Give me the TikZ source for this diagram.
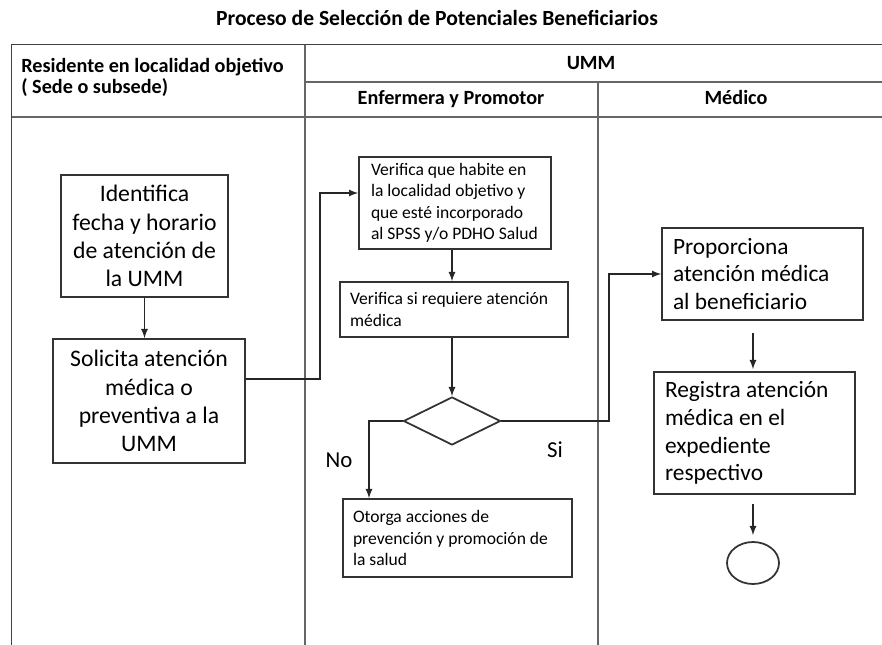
\documentclass[tikz,border=0pt]{standalone}
\usepackage{fontspec}
\setmainfont{Carlito}
\usetikzlibrary{shapes.geometric}
\begin{document}
\begin{tikzpicture}[x=0.02cm,y=-0.02cm,
    lane/.style={line width=0.9pt,draw=black!60},
    frame/.style={draw=black!75,double,double distance=0.5pt,line width=0.45pt},
    head/.style={font=\bfseries\fontsize{11.5}{13}\selectfont,inner sep=0pt,text height=1.6ex,text depth=0.4ex},
    bigbox/.style={draw=black!80,line width=1pt,align=center,font=\fontsize{13.5}{16}\selectfont,inner sep=0pt},
    textbox/.style={draw=black!80,line width=1pt,align=flush left,font=\fontsize{10}{12.2}\selectfont,inner ysep=0pt},
    medbox/.style={draw=black!80,line width=1pt,align=flush left,font=\fontsize{13.3}{15.8}\selectfont,inner ysep=0pt,inner xsep=0.22cm,text width=3.58cm,minimum width=4.02cm},
    flow/.style={line width=0.8pt,draw=black!85,-latex}]
  \useasboundingbox (0,0) rectangle (882,645);
  % table
  \draw[frame] (12,645) -- (12,45) -- (882,45);
  \draw[lane] (12,117) -- (882,117);
  \draw[lane] (305,45) -- (305,645);
  \draw[lane] (305,82) -- (882,82);
  \draw[lane] (598,82) -- (598,645);
  \node[head,font=\bfseries\fontsize{12.3}{14}\selectfont] (title) at (437,20) {Proceso de Selección de Potenciales Beneficiarios};
  \node[head,anchor=west] (resid) at (21,67) {Residente en localidad objetivo};
  \node[head,anchor=west] (sede) at (21,88) {( Sede o subsede)};
  \node[head] (umm) at (591,64) {UMM};
  \node[head] (enfer) at (451,99) {Enfermera y Promotor};
  \node[head] (medico) at (736,99) {Médico};
  % boxes
  \node[bigbox,minimum width=3.34cm,minimum height=2.44cm] (ident) at (144.5,236) {Identifica\\fecha y horario\\de atención de\\la UMM};
  \node[bigbox,minimum width=3.84cm,minimum height=2.48cm] (solic) at (149,401) {Solicita atención\\médica o\\preventiva a la\\UMM};
  \node[textbox,inner xsep=0.24cm,text width=3.36cm,minimum height=1.84cm] (verif) at (455,203) {Verifica que habite en\\la localidad objetivo y\\que esté incorporado\\al SPSS y/o PDHO Salud};
  \node[textbox,inner xsep=0.2cm,text width=4.16cm,minimum height=1.1cm] (requi) at (454,309.5) {Verifica si requiere atención\\médica};
  \node[draw=black!80,line width=1pt,diamond,inner sep=0pt,minimum width=1.94cm,minimum height=0.96cm] (decis) at (452,421) {};
  \node[textbox,inner xsep=0.2cm,text width=4.18cm,minimum height=1.56cm] (otorga) at (457.5,538) {Otorga acciones de\\prevención y promoción de\\la salud};
  \node[medbox,minimum height=1.84cm] (propor) at (762.5,274) {Proporciona\\atención médica\\al beneficiario};
  \node[medbox,minimum height=2.44cm] (regis) at (754.5,433) {Registra atención\\médica en el\\expediente\\respectivo};
  \node[draw=black!80,line width=1pt,ellipse,minimum width=1.04cm,minimum height=0.84cm,inner sep=0pt] (fin) at (753,563) {};
  \node[font=\fontsize{13}{15}\selectfont] (no) at (339,460) {No};
  \node[font=\fontsize{13}{15}\selectfont] (si) at (555,450) {Si};
  % connectors
  \draw[flow] (ident.south) -- (ident.south |- solic.north);
  \draw[flow] ([shift={(0,-22)}]solic.east) -| ([shift={(-38,-10)}]verif.west) -- ([shift={(0,-10)}]verif.west);
  \draw[flow] (decis.north |- verif.south) -- (decis.north |- requi.north);
  \draw[flow] (decis.north |- requi.south) -- (decis.north);
  \draw[flow] (decis.west) -| ([shift={(-88.5,0)}]otorga.north);
  \draw[flow] (decis.east) -| ([shift={(-52,0)}]propor.west) -- (propor.west);
  \draw[flow] ([shift={(-9.5,12)}]propor.south) -- ([shift={(-1.5,-2)}]regis.north);
  \draw[flow] ([shift={(-1.5,9)}]regis.south) -- ([shift={(0,-6)}]fin.north);
\end{tikzpicture}
\end{document}
